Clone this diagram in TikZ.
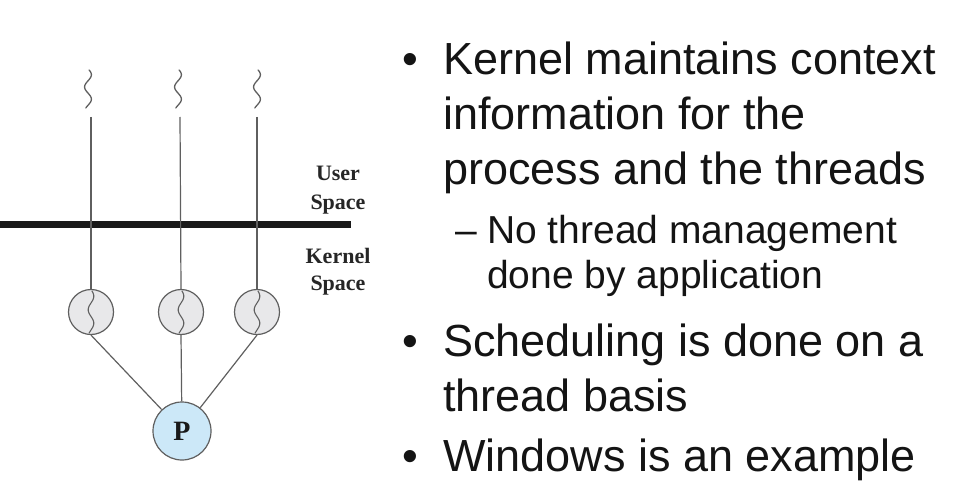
\documentclass[tikz,border=0pt]{standalone}
\usepackage{fontspec}
\setmainfont{Liberation Sans}
\newfontfamily\tms{Liberation Serif}
\definecolor{pblue}{RGB}{204,232,248}
\definecolor{tgray}{RGB}{232,232,234}
\definecolor{edge}{RGB}{95,95,95}
\begin{document}
\begin{tikzpicture}[x=1pt,y=-1pt,
  wire/.style={draw=edge,line width=1.2pt},
  thrd/.style={circle,draw=edge,line width=1.2pt,fill=tgray,minimum size=45pt,inner sep=0pt},
  proc/.style={circle,draw=edge,line width=1.2pt,fill=pblue,minimum size=58pt,inner sep=0pt,font=\tms\bfseries\fontsize{28}{28}\selectfont,text=black!90},
  lbl/.style={font=\tms\bfseries\fontsize{22}{22}\selectfont,anchor=base,inner sep=0pt,text=black!85},
  big/.style={font=\fontsize{45}{45}\selectfont,anchor=base west,inner sep=0pt,text=black!92},
  sub/.style={font=\fontsize{39}{39}\selectfont,anchor=base west,inner sep=0pt,text=black!92}]
\useasboundingbox (0,0) rectangle (971,489);
% separator bar
\fill[black!90] (0,221) rectangle (351,228);
% labels
\node[lbl] (u1) at (338,181) {User};
\node[lbl] (u2) at (338,209) {Space};
\node[lbl] (k1) at (338,263) {Kernel};
\node[lbl] (k2) at (338,290) {Space};
% thread circles and process
\node[thrd] (t1) at (91,312) {};
\node[thrd] (t2) at (181,312) {};
\node[thrd] (t3) at (257,312) {};
\node[proc] (P) at (182,431) {P};
% top coordinates
\coordinate (a1) at (91,117);
\coordinate (a2) at (180,117);
\coordinate (a3) at (257,117);
\draw[wire] (a1) -- (t1.north);
\draw[wire] (a2) -- (t2.north);
\draw[wire] (a3) -- (t3.north);
\draw[wire] (t1.south) -- (P);
\draw[wire] (t2.south) -- (P);
\draw[wire] (t3.south) -- (P);
% squiggles on top
\foreach \xx in {88,178,257}{
  \draw[edge,line width=1.3pt,line cap=round] plot[domain=0:1,samples=40,smooth] ({\xx+3.4*sin(560*\x+20)},{70+38*\x});
}
% squiggles inside circles
\foreach \xx in {91,181,257}{
  \draw[edge,line width=1.1pt,line cap=round] plot[domain=0:1,samples=40,smooth] ({\xx+2.8*sin(560*\x+20)},{291+42*\x});
}
% right text
\node[big] (b1) at (402,75) {•};
\node[big] (l1) at (443,75) {Kernel maintains context};
\node[big] (l2) at (443,130) {information for the};
\node[big] (l3) at (443,185) {process and the threads};
\node[sub] (d1) at (455,243) {–};
\node[sub] (s1) at (487,243) {No thread management};
\node[sub] (s2) at (487,288) {done by application};
\node[big] (b2) at (402,356) {•};
\node[big] (l4) at (443,356) {Scheduling is done on a};
\node[big] (l5) at (443,411) {thread basis};
\node[big] (b3) at (402,471) {•};
\node[big] (l6) at (443,471) {Windows is an example};
\end{tikzpicture}
\end{document}
